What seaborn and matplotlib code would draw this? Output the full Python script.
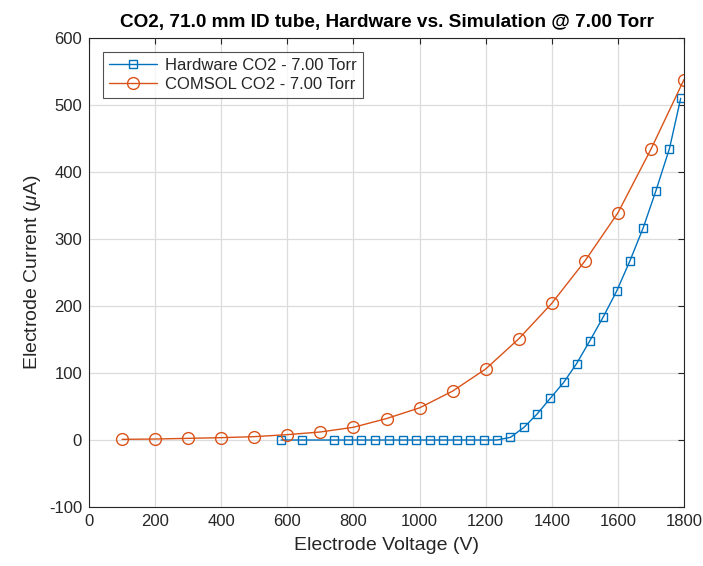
import matplotlib
matplotlib.use("Agg")
import matplotlib.pyplot as plt
import seaborn as sns
import pandas as pd

# Measured hardware sweep
hw_voltage = [581, 645, 742, 782, 824, 866, 908, 949, 990, 1031, 1072, 1112, 1153, 1194, 1234,
              1275, 1316, 1356, 1395, 1436, 1475, 1515, 1556, 1596, 1636, 1676, 1715, 1756, 1790]
hw_current = [0, 0, 0, 0, 0, 0, 0, 0, 0, 0, 0, 0, 0, 0, 0,
              4, 19, 39, 62, 86, 114, 148, 184, 222, 267, 316, 372, 435, 510]

# COMSOL simulation
sim_voltage = [100, 200, 300, 400, 500, 600, 700, 800, 900, 1000, 1100, 1200, 1300, 1400,
               1500, 1600, 1700, 1800]
sim_current = [1, 1.5, 2.5, 3.5, 5, 8, 12, 19, 32, 48, 73, 106, 151, 204, 267, 339, 434, 538]

x_ticks = [0, 200, 400, 600, 800, 1000, 1200, 1400, 1600, 1800]
y_ticks = [-100, 0, 100, 200, 300, 400, 500, 600]

hw_label = "Hardware CO2 - 7.00 Torr"
sim_label = "COMSOL CO2 - 7.00 Torr"

sns.set_style("white")
plt.rcParams["font.family"] = ["Liberation Sans", "DejaVu Sans"]
plt.rcParams["mathtext.fontset"] = "custom"
plt.rcParams["mathtext.it"] = "Liberation Sans:italic"
plt.rcParams["mathtext.rm"] = "Liberation Sans"
plt.rcParams["axes.unicode_minus"] = False

hw_df = pd.DataFrame({"V": hw_voltage, "I": hw_current})
sim_df = pd.DataFrame({"V": sim_voltage, "I": sim_current})

blue = "#0072BD"
orange = "#D95319"

fig = plt.figure(figsize=(7.03, 5.66), dpi=100)
ax = fig.add_axes([0.1266, 0.1042, 0.8464, 0.8287])

sns.lineplot(data=hw_df, x="V", y="I", ax=ax, color=blue, lw=1.0, marker="s",
             markersize=6, markerfacecolor="none", markeredgecolor=blue,
             markeredgewidth=1.0, label=hw_label, sort=False)
sns.lineplot(data=sim_df, x="V", y="I", ax=ax, color=orange, lw=1.0, marker="o",
             markersize=8.5, markerfacecolor="none", markeredgecolor=orange,
             markeredgewidth=1.0, label=sim_label, sort=False)

ax.set_xlim(0, 1800)
ax.set_ylim(-100, 600)
ax.set_xticks(x_ticks)
ax.set_yticks(y_ticks)
ax.grid(True, color="#dcdcdc", lw=0.9)
ax.set_axisbelow(True)
for s in ax.spines.values():
    s.set_color("#262626")
    s.set_linewidth(0.8)
ax.tick_params(direction="in", length=4, width=0.8, colors="#262626",
               labelsize=12, top=True, right=True, labelcolor="#262626", pad=5)

ax.set_xlabel("Electrode Voltage (V)", fontsize=14, color="#262626", labelpad=6)
ax.set_ylabel(r"Electrode Current ($\mu$A)", fontsize=14, color="#262626", labelpad=4)
ax.set_title("CO2, 71.0 mm ID tube, Hardware vs. Simulation @ 7.00 Torr",
             fontsize=13.7, fontweight="bold", color="black", pad=8)

leg = ax.legend(loc="upper left", bbox_to_anchor=(0.0235, 0.970), fontsize=12,
                frameon=True, fancybox=False, edgecolor="#262626",
                borderpad=0.35, handlelength=2.9, handletextpad=0.5,
                labelspacing=0.25, borderaxespad=0.0)
leg.get_frame().set_linewidth(0.8)

fig.savefig("out.png", dpi=100)
